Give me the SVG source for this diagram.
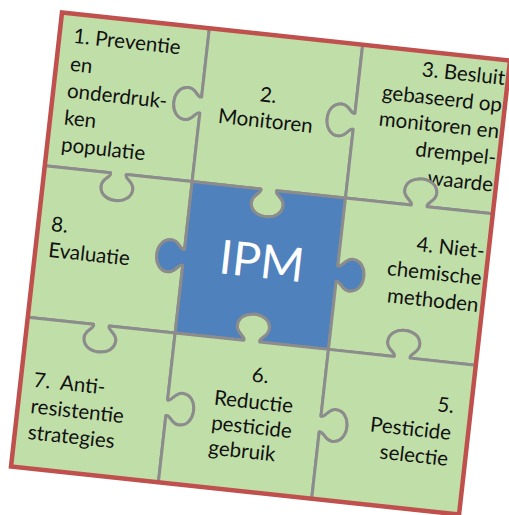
<svg xmlns="http://www.w3.org/2000/svg" width="509" height="515" viewBox="0 0 509 515">
<style>
.pc{fill:#c0dea8;stroke:#8c8c8c;stroke-width:3;stroke-linejoin:round}
.ctr{fill:#4f81bd;stroke:#8c8c8c;stroke-width:3;stroke-linejoin:round}
.t{font-family:Lato,"Liberation Sans",sans-serif;font-size:20.5px;fill:#111111}
.r{text-anchor:end}
.m{text-anchor:middle}
.ipm{font-family:Lato,"Liberation Sans",sans-serif;font-size:47px;font-weight:400;fill:#ffffff;text-anchor:middle}
</style>
<rect width="509" height="515" fill="#ffffff"/>
<g transform="matrix(0.9956 0.1067 -0.1118 0.9956 62 12.5)">
<g id="piece1">
<path class="pc" d="M0 0 H148 V69 C144 71 142 61 134 61 C126 61 121 68 121 77 C121 86 126 93 134 93 C142 93 144 83 148 85 V154 H82 C80 158 90 160 90 168 C90 176 83 181 74 181 C65 181 58 176 58 168 C58 160 68 158 66 154 H0 Z"/>
<text class="t" x="14" y="29">1. Preventie</text>
<text class="t" x="14" y="57">en</text>
<text class="t" x="14" y="84">onderdruk-</text>
<text class="t" x="14" y="111">ken</text>
<text class="t" x="14" y="138">populatie</text>
</g>
<g id="piece2">
<path class="pc" d="M148 0 H302 V69 C298 71 296 61 288 61 C280 61 275 68 275 77 C275 86 280 93 288 93 C296 93 298 83 302 85 V154 H233 C231 158 241 160 241 168 C241 176 234 181 225 181 C216 181 209 176 209 168 C209 160 219 158 217 154 H148 V85 C144 83 142 93 134 93 C126 93 121 86 121 77 C121 68 126 61 134 61 C142 61 144 71 148 69 Z"/>
<text class="t m" x="214" y="67">2.</text>
<text class="t m" x="214" y="93">Monitoren</text>
</g>
<g id="piece3">
<path class="pc" d="M302 0 H450 V154 H384 C382 150 392 148 392 140 C392 132 385 127 376 127 C367 127 360 132 360 140 C360 148 370 150 368 154 H302 V85 C298 83 296 93 288 93 C280 93 275 86 275 77 C275 68 280 61 288 61 C296 61 298 71 302 69 Z"/>
<text class="t r" x="447" y="25">3. Besluit</text>
<text class="t r" x="447" y="52">gebaseerd op</text>
<text class="t r" x="447" y="78.5">monitoren en</text>
<text class="t r" x="447" y="105">drempel-</text>
<text class="t r" x="447" y="132">waarde</text>
</g>
<g id="piece8">
<path class="pc" d="M0 154 H66 C68 158 58 160 58 168 C58 176 65 181 74 181 C83 181 90 176 90 168 C90 160 80 158 82 154 H148 V222 C144 224 142 214 134 214 C126 214 121 221 121 230 C121 239 126 246 134 246 C142 246 144 236 148 238 V306 H82 C80 310 90 312 90 320 C90 328 83 333 74 333 C65 333 58 328 58 320 C58 312 68 310 66 306 H0 Z"/>
<text class="t" x="13" y="218">8.</text>
<text class="t" x="13" y="244">Evaluatie</text>
</g>
<g id="center">
<path class="ctr" d="M148 154 H217 C219 158 209 160 209 168 C209 176 216 181 225 181 C234 181 241 176 241 168 C241 160 231 158 233 154 H302 V222 C306 224 308 214 316 214 C324 214 329 221 329 230 C329 239 324 246 316 246 C308 246 306 236 302 238 V306 H233 C231 302 241 300 241 292 C241 284 234 279 225 279 C216 279 209 284 209 292 C209 300 219 302 217 306 H148 V238 C144 236 142 246 134 246 C126 246 121 239 121 230 C121 221 126 214 134 214 C142 214 144 224 148 222 Z"/>
<text class="ipm" x="226" y="242">IPM</text>
</g>
<g id="piece4">
<path class="pc" d="M302 154 H368 C370 150 360 148 360 140 C360 132 367 127 376 127 C385 127 392 132 392 140 C392 148 382 150 384 154 H450 V306 H384 C382 302 392 300 392 292 C392 284 385 279 376 279 C367 279 360 284 360 292 C360 300 370 302 368 306 H302 V238 C306 236 308 246 316 246 C324 246 329 239 329 230 C329 221 324 214 316 214 C308 214 306 224 302 222 Z"/>
<text class="t r" x="446" y="199">4. Niet-</text>
<text class="t r" x="446" y="226">chemische</text>
<text class="t r" x="446" y="253">methoden</text>
</g>
<g id="piece7">
<path class="pc" d="M0 306 H66 C68 310 58 312 58 320 C58 328 65 333 74 333 C83 333 90 328 90 320 C90 312 80 310 82 306 H148 V373 C152 375 154 365 162 365 C170 365 175 372 175 381 C175 390 170 397 162 397 C154 397 152 387 148 389 V456 H0 Z"/>
<text class="t" x="13" y="374.5" xml:space="preserve">7.  Anti-</text>
<text class="t" x="13" y="401">resistentie</text>
<text class="t" x="13" y="427">strategies</text>
</g>
<g id="piece6">
<path class="pc" d="M148 306 H217 C219 302 209 300 209 292 C209 284 216 279 225 279 C234 279 241 284 241 292 C241 300 231 302 233 306 H302 V373 C306 375 308 365 316 365 C324 365 329 372 329 381 C329 390 324 397 316 397 C308 397 306 387 302 389 V456 H148 V389 C152 387 154 397 162 397 C170 397 175 390 175 381 C175 372 170 365 162 365 C154 365 152 375 148 373 Z"/>
<text class="t" x="229" y="346">6.</text>
<text class="t" x="194" y="373">Reductie</text>
<text class="t" x="194" y="398">pesticide</text>
<text class="t" x="194" y="423">gebruik</text>
</g>
<g id="piece5">
<path class="pc" d="M302 306 H368 C370 302 360 300 360 292 C360 284 367 279 376 279 C385 279 392 284 392 292 C392 300 382 302 384 306 H450 V456 H302 V389 C306 387 308 397 316 397 C324 397 329 390 329 381 C329 372 324 365 316 365 C308 365 306 375 302 373 Z"/>
<text class="t r" x="433" y="356">5.</text>
<text class="t r" x="433" y="383">Pesticide</text>
<text class="t r" x="433" y="409">selectie</text>
</g>
<g id="border">
<rect x="0" y="0" width="450" height="456" fill="none" stroke="#c0504d" stroke-width="4.5"/>
</g>
</g>
</svg>
